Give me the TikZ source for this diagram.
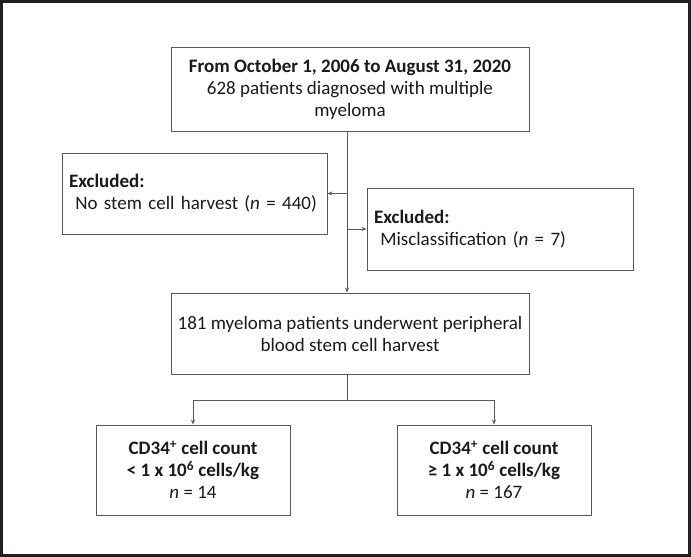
\documentclass[tikz,border=0pt]{standalone}
\usepackage{fontspec}
\setmainfont{Carlito}
\usetikzlibrary{arrows.meta,calc}
\definecolor{framec}{HTML}{231F20}
\definecolor{boxc}{HTML}{5A5A5A}
\definecolor{textc}{HTML}{1A1A1A}
\begin{document}
\begin{tikzpicture}[x=1pt,y=-1pt,
  box/.style={draw=boxc, line width=0.9pt, rectangle, inner sep=0pt, text=textc,
    font=\fontsize{19}{22}\selectfont},
  conn/.style={draw=boxc, line width=0.9pt},
  arr/.style={conn, -{Stealth[length=5pt,width=4pt]}}]
\useasboundingbox (0,0) rectangle (691,557);
\fill[white] (0,0) rectangle (691,557);
\draw[framec, line width=2.5pt] (1.25,1.25) rectangle (689.5,555.5);

\node[box, minimum width=358pt, minimum height=84pt, align=center] (top) at (350,89)
  {\textbf{From October 1, 2006 to August 31, 2020}\\628 patients diagnosed with multiple\\myeloma};
\node[box, minimum width=265pt, minimum height=81pt, align=left, text width=251pt] (exl) at (194.5,193.5)
  {\textbf{Excluded:}\\\ No stem cell harvest (\textit{n} = 440)};
\node[box, minimum width=266pt, minimum height=82pt, align=left, text width=252pt] (exr) at (500,229)
  {\textbf{Excluded:}\\\ Misclassification (\textit{n} = 7)};
\node[box, minimum width=358pt, minimum height=81pt, align=center] (mid) at (350,333.5)
  {181 myeloma patients underwent peripheral\\blood stem cell harvest};
\node[box, minimum width=194pt, minimum height=90pt, align=center] (bl) at (193,470)
  {\textbf{CD34\textsuperscript{+} cell count}\\\textbf{< 1 x 10\textsuperscript{6} cells/kg}\\\textit{n} = 14};
\node[box, minimum width=194pt, minimum height=90pt, align=center] (br) at (494,470)
  {\textbf{CD34\textsuperscript{+} cell count}\\\textbf{≥ 1 x 10\textsuperscript{6} cells/kg}\\\textit{n} = 167};

\coordinate (t0) at ([xshift=-3pt]top.south);
\coordinate (m0) at ([xshift=-3pt]mid.north);
\coordinate (m1) at ([xshift=-3pt]mid.south);
\draw[arr] (t0) -- (m0);
\coordinate (j1) at (t0 |- exl.east);
\coordinate (j2) at (t0 |- exr.west);
\draw[arr] (j1) -- (exl.east);
\draw[arr] (j2) -- (exr.west);
\draw[conn] (m1) -- ++(0,26) coordinate (j3);
\draw[arr] (j3) -| (bl.north);
\draw[arr] (j3) -| (br.north);
\end{tikzpicture}
\end{document}
